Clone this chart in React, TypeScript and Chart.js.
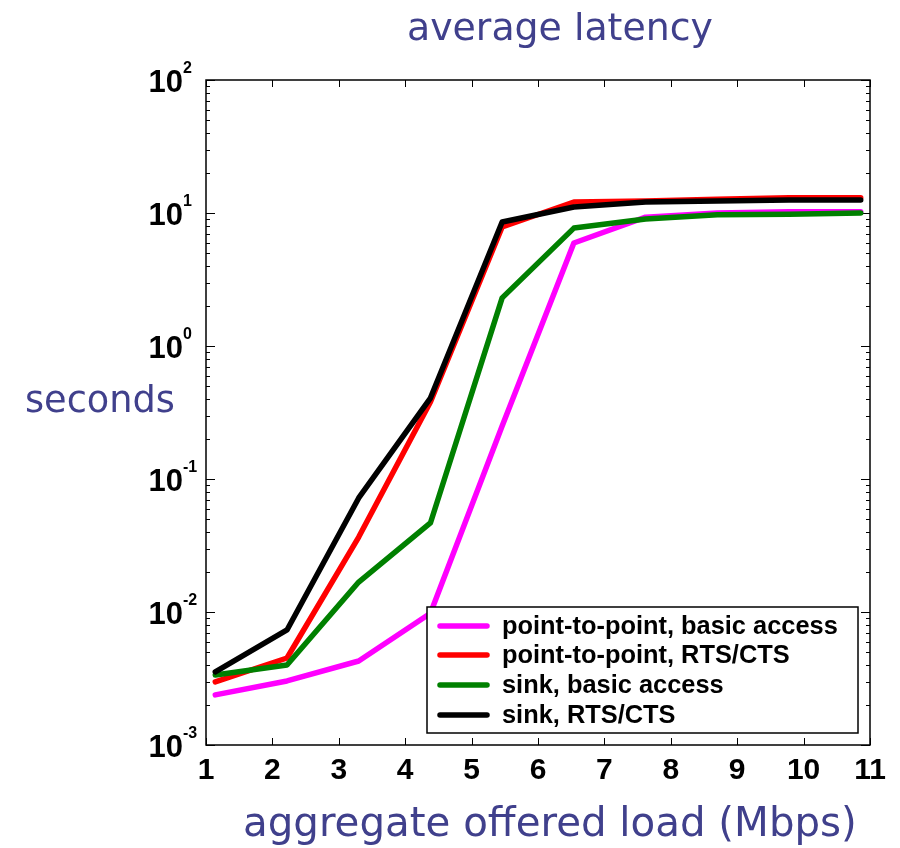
import React, { useEffect, useRef } from "react";
import { Chart, registerables } from "chart.js";

Chart.register(...registerables);

// ---- data ----
const loads = [1.14, 2.22, 3.3, 4.38, 5.46, 6.54, 7.62, 8.7, 9.78, 10.86];
const p2pBasic = [0.00238, 0.00303, 0.00428, 0.0098, 0.25, 5.95, 9.3, 10.0, 10.2, 10.2];
const p2pRts = [0.00298, 0.00451, 0.0366, 0.379, 7.85, 12.1, 12.3, 12.7, 13.0, 13.0];
const sinkBasic = [0.00336, 0.004, 0.0168, 0.0467, 2.3, 7.7, 9.0, 9.7, 9.8, 10.0];
const sinkRts = [0.00354, 0.00733, 0.072, 0.406, 8.56, 11.1, 12.1, 12.3, 12.5, 12.5];

const seriesLabels = [
  "point-to-point, basic access",
  "point-to-point, RTS/CTS",
  "sink, basic access",
  "sink, RTS/CTS",
];
const seriesColors = ["#ff00ff", "#ff0000", "#008000", "#000000"];
const seriesValues = [p2pBasic, p2pRts, sinkBasic, sinkRts];

const yExponents = [-3, -2, -1, 0, 1, 2];
const titleText = "average latency";
const yTitleText = "seconds";
const xTitleText = "aggregate offered load (Mbps)";

const TITLE_COLOR = "#40408c";
const TITLE_FONT = '"DejaVu Sans", sans-serif';
const TICK_FONT = '"Liberation Sans", Arial, sans-serif';

function fitSize(ctx: CanvasRenderingContext2D, text: string, family: string, weight: string, width: number) {
  ctx.font = `${weight} 100px ${family}`;
  const w = ctx.measureText(text).width;
  return (100 * width) / w;
}

const decorPlugin = {
  id: "decor",
  beforeDatasetsDraw(chart: any) {
    const ctx: CanvasRenderingContext2D = chart.ctx;
    const { left, right, top, bottom } = chart.chartArea;
    const xs = chart.scales.x;
    const ys = chart.scales.y;
    ctx.save();
    ctx.strokeStyle = "#000";
    ctx.lineWidth = 1;
    // x ticks (inward, bottom and top)
    for (let v = xs.min; v <= xs.max; v++) {
      const px = Math.round(xs.getPixelForValue(v)) + 0.5;
      ctx.beginPath();
      ctx.moveTo(px, bottom);
      ctx.lineTo(px, bottom - 7);
      ctx.moveTo(px, top);
      ctx.lineTo(px, top + 7);
      ctx.stroke();
    }
    // y ticks major + minor
    for (let i = 0; i < yExponents.length; i++) {
      const e = yExponents[i];
      for (let k = 1; k <= 9; k++) {
        if (e === yExponents[yExponents.length - 1] && k > 1) break;
        const val = k * Math.pow(10, e);
        const py = Math.round(ys.getPixelForValue(val)) + 0.5;
        const len = k === 1 ? 9 : 4;
        ctx.beginPath();
        ctx.moveTo(left, py);
        ctx.lineTo(left + len, py);
        ctx.moveTo(right, py);
        ctx.lineTo(right - len, py);
        ctx.stroke();
      }
    }
    ctx.restore();
  },
  afterDatasetsDraw(chart: any) {
    const ctx: CanvasRenderingContext2D = chart.ctx;
    const { left, right, top, bottom } = chart.chartArea;
    ctx.save();
    // frame
    ctx.strokeStyle = "#000";
    ctx.lineWidth = 1.5;
    ctx.strokeRect(left, top, right - left, bottom - top);

    // legend
    const bx = right - 443;
    const by = bottom - 138;
    const bw = 431;
    const bh = 126;
    ctx.fillStyle = "#fff";
    ctx.fillRect(bx, by, bw, bh);
    ctx.strokeStyle = "#000";
    ctx.lineWidth = 1.5;
    ctx.strokeRect(bx, by, bw, bh);
    const size = fitSize(ctx, seriesLabels[0], TICK_FONT, "bold", 336);
    ctx.font = `bold ${size}px ${TICK_FONT}`;
    ctx.textBaseline = "middle";
    ctx.textAlign = "left";
    const rows = [19, 48, 78, 108];
    chart.data.datasets.forEach((ds: any, i: number) => {
      const y = by + rows[i];
      ctx.strokeStyle = ds.borderColor;
      ctx.lineWidth = 5.5;
      ctx.lineCap = "round";
      ctx.beginPath();
      ctx.moveTo(bx + 13, y);
      ctx.lineTo(bx + 60, y);
      ctx.stroke();
      ctx.fillStyle = "#000";
      ctx.fillText(ds.label, bx + 75, y + 1);
    });
    ctx.restore();
  },
  afterDraw(chart: any) {
    const ctx: CanvasRenderingContext2D = chart.ctx;
    const { left } = chart.chartArea;
    const ys = chart.scales.y;
    ctx.save();
    // y tick labels with superscripts
    ctx.fillStyle = "#000";
    ctx.textBaseline = "alphabetic";
    for (const e of yExponents) {
      const py = ys.getPixelForValue(Math.pow(10, e));
      ctx.font = `bold 31px ${TICK_FONT}`;
      ctx.textAlign = "right";
      ctx.fillText("10", left - 23, py + 12);
      ctx.font = `bold 16px ${TICK_FONT}`;
      ctx.textAlign = "left";
      ctx.fillText(String(e), left - 23, py - 7);
    }
    // titles
    ctx.fillStyle = TITLE_COLOR;
    ctx.textAlign = "left";
    let s = fitSize(ctx, titleText, TITLE_FONT, "normal", 306);
    ctx.font = `normal ${s}px ${TITLE_FONT}`;
    ctx.fillText(titleText, 407, 40);
    s = fitSize(ctx, yTitleText, TITLE_FONT, "normal", 150);
    ctx.font = `normal ${s}px ${TITLE_FONT}`;
    ctx.fillText(yTitleText, 25, 412);
    s = fitSize(ctx, xTitleText, TITLE_FONT, "normal", 614);
    ctx.font = `normal ${s}px ${TITLE_FONT}`;
    ctx.fillText(xTitleText, 243, 836);
    ctx.restore();
  },
};

export default function App() {
  const ref = useRef<HTMLCanvasElement | null>(null);
  useEffect(() => {
    if (!ref.current) return;
    const order = [3, 2, 1, 0];
    const chart = new Chart(ref.current, {
      type: "line",
      data: {
        datasets: seriesValues.map((vals, i) => ({
          label: seriesLabels[i],
          data: loads.map((x, j) => ({ x, y: vals[j] })),
          borderColor: seriesColors[i],
          backgroundColor: seriesColors[i],
          borderWidth: 5.5,
          pointRadius: 0,
          tension: 0,
          borderCapStyle: "round",
          borderJoinStyle: "round",
          order: order[i],
        })),
      },
      options: {
        responsive: false,
        animation: false,
        events: [],
        layout: { padding: { top: 80, right: 30, left: 0, bottom: 0 } },
        plugins: {
          legend: { display: false },
          title: { display: false },
          tooltip: { enabled: false },
        },
        scales: {
          x: {
            type: "linear",
            min: 1,
            max: 11,
            grid: { display: false, drawTicks: false },
            border: { display: false },
            ticks: {
              stepSize: 1,
              padding: 8,
              color: "#000",
              font: { family: TICK_FONT, size: 30, weight: "bold" },
              autoSkip: false,
              maxRotation: 0,
            },
            afterFit(scale: any) {
              scale.height = 103;
            },
          },
          y: {
            type: "logarithmic",
            min: 0.001,
            max: 100,
            grid: { display: false, drawTicks: false },
            border: { display: false },
            ticks: { display: false },
            afterFit(scale: any) {
              scale.width = 206;
            },
          },
        },
      },
      plugins: [decorPlugin],
    } as any);
    return () => chart.destroy();
  }, []);
  return (
    <canvas
      ref={ref}
      width={900}
      height={848}
      style={{ position: "absolute", left: 0, top: 0, display: "block" }}
    />
  );
}
